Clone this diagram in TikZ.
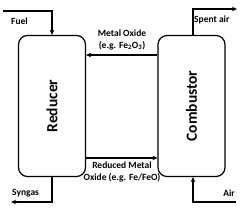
\documentclass[tikz,border=0pt]{standalone}
\usepackage{fontspec}
\setmainfont{Carlito}
\usetikzlibrary{arrows.meta}
\begin{document}
\begin{tikzpicture}[x=1pt,y=-1pt,
  reactor/.style={draw,line width=1.2pt,rounded corners=9pt,minimum width=67pt,minimum height=141pt,inner sep=0pt},
  flow/.style={line width=1.2pt,-{Stealth[length=5pt,width=4.5pt]}},
  lbl/.style={font=\bfseries\fontsize{9.5}{11.5}\selectfont,inner sep=0pt,align=center},
  big/.style={font=\bfseries\fontsize{15.5}{18}\selectfont,rotate=90}]
\useasboundingbox (0,0) rectangle (250,215);
\node[reactor] (red) at (52,106) {};
\node[reactor] (com) at (191.5,106) {};
\node[big] (redt) at (red.center) {Reducer};
\node[big] (comt) at (com.center) {Combustor};
\coordinate (fuel0) at (3,11);
\coordinate (fuel1) at (52,11);
\draw[flow] (fuel0) -- (fuel1) -- (red.north);
\node[lbl,anchor=west] (fuelt) at (11,21) {Fuel};
\coordinate (syn0) at (52,202);
\coordinate (syn1) at (11,202);
\draw[flow] (red.south) -- (syn0) -- (syn1);
\node[lbl,anchor=west] (synt) at (12,193) {Syngas};
\coordinate (sp0) at (193,9);
\coordinate (sp1) at (237,9);
\draw[flow] (com.north -| sp0) -- (sp0) -- (sp1);
\node[lbl,anchor=west] (spt) at (194,20) {Spent air};
\coordinate (air0) at (193,202);
\coordinate (air1) at (236,202);
\draw[flow] (air1) -- (air0) -- (com.south -| air0);
\node[lbl,anchor=east] (airt) at (235,193) {Air};
\coordinate (mo) at (0,55);
\draw[flow] (com.west |- mo) -- (red.east |- mo);
\node[lbl] (mot) at (122,40) {Metal Oxide\\(e.g. Fe\textsubscript{2}O\textsubscript{3})};
\coordinate (rm) at (0,158);
\draw[flow] (red.east |- rm) -- (com.west |- rm);
\node[lbl] (rmt) at (122,172) {Reduced Metal\\Oxide (e.g. Fe/FeO)};
\end{tikzpicture}
\end{document}
